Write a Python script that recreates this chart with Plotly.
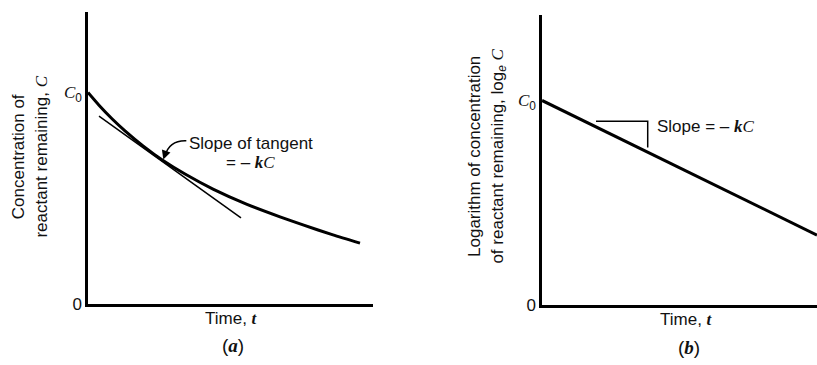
import plotly.graph_objects as go

W, H = 817, 365

# ---------------- data ----------------
# (a) concentration vs time (C0 = 1)
time_a = [0.0, 0.386, 0.842, 1.298, 1.930, 2.632, 3.404, 4.386, 5.579, 6.737, 7.544, 8.596, 9.544]
conc_a = [1.000, 0.940, 0.876, 0.819, 0.748, 0.679, 0.615, 0.544, 0.472, 0.413, 0.375, 0.328, 0.289]
# tangent line
tan_t = [0.386, 5.368]
tan_c = [0.888, 0.408]
tangent_point = (2.632, 0.679)

# (b) log concentration vs time
time_b = [0.0, 10.0]
logc_b = [1.0, 0.343]
# slope triangle
tri_t = [1.964, 3.844, 3.844]
tri_c = [0.899, 0.899, 0.770]

y_tickvals = [0, 1]
SERIF = "Liberation Serif"
SANS = "Liberation Sans"
c0_label = f"<span style='font-family:{SERIF}'><i>C</i></span><sub>0</sub>"
y_ticktext = ["0", c0_label]
kc = f"<span style='font-family:{SERIF}'><i><b>k</b>C</i></span>"


def px(x):
    return x / W


def py(y):
    return 1 - y / H


fig = go.Figure()
fig.add_trace(go.Scatter(x=time_a, y=conc_a, mode="lines", line=dict(color="black", width=3, shape="spline", smoothing=0.6),
                         xaxis="x", yaxis="y", hoverinfo="skip"))
fig.add_trace(go.Scatter(x=tan_t, y=tan_c, mode="lines", line=dict(color="black", width=1.5),
                         xaxis="x", yaxis="y", hoverinfo="skip"))
fig.add_trace(go.Scatter(x=time_b, y=logc_b, mode="lines", line=dict(color="black", width=3),
                         xaxis="x2", yaxis="y2", hoverinfo="skip"))
fig.add_trace(go.Scatter(x=tri_t, y=tri_c, mode="lines", line=dict(color="black", width=1.5),
                         xaxis="x2", yaxis="y2", hoverinfo="skip"))

axis_common = dict(showgrid=False, zeroline=False, showline=True, linecolor="black", linewidth=2.5,
                   ticks="", fixedrange=True)

fig.update_layout(
    width=W, height=H,
    margin=dict(l=0, r=0, t=0, b=0),
    paper_bgcolor="white", plot_bgcolor="white",
    showlegend=False,
    font=dict(family=SANS, size=17, color="#111111"),
    xaxis=dict(domain=[px(88), px(373)], range=[0, 10], showticklabels=False, anchor="y", **axis_common),
    yaxis=dict(domain=[py(313), py(12)], range=[0, 1.381], anchor="x", tickvals=y_tickvals, ticktext=y_ticktext,
               tickfont=dict(size=17), **axis_common),
    xaxis2=dict(domain=[px(542), 1.0], range=[0, 10], showticklabels=False, anchor="y2", **axis_common),
    yaxis2=dict(domain=[py(314), py(15)], range=[0, 1.419], anchor="x2", tickvals=y_tickvals, ticktext=y_ticktext,
                tickfont=dict(size=17), **axis_common),
)

# curved arrow shaft (a)
fig.add_shape(type="path", xref="x", yref="y",
              path="M 3.45,0.772 Q 2.85,0.775 2.70,0.700",
              line=dict(color="black", width=1.5))

ann = []
# arrow head pointing to tangent point
ann.append(dict(x=tangent_point[0], y=tangent_point[1], xref="x", yref="y", ax=3, ay=-9, text="",
                showarrow=True, arrowhead=2, arrowsize=1.2, arrowwidth=1.5, arrowcolor="black", standoff=1))
ann.append(dict(x=px(187), y=py(148), xref="paper", yref="paper", xanchor="left", yanchor="middle",
                text="Slope of tangent", showarrow=False))
ann.append(dict(x=px(250), y=py(167), xref="paper", yref="paper", xanchor="center", yanchor="middle",
                text=f"= – {kc}", showarrow=False))
ann.append(dict(x=px(655), y=py(130), xref="paper", yref="paper", xanchor="left", yanchor="middle",
                text=f"Slope = – {kc}", showarrow=False))
# axis titles
ann.append(dict(x=px(231.5), y=py(327.5), xref="paper", yref="paper", xanchor="center", yanchor="middle",
                text=f"Time, <span style='font-family:{SERIF}'><i><b>t</b></i></span>", showarrow=False))
ann.append(dict(x=px(686.5), y=py(329), xref="paper", yref="paper", xanchor="center", yanchor="middle",
                text=f"Time, <span style='font-family:{SERIF}'><i><b>t</b></i></span>", showarrow=False))
ann.append(dict(x=px(30), y=py(161), xref="paper", yref="paper", xanchor="center", yanchor="middle",
                textangle=-90,
                text=f"Concentration of<br>reactant remaining, <span style='font-family:{SERIF}'><i>C</i></span>",
                showarrow=False))
ann.append(dict(x=px(487), y=py(161), xref="paper", yref="paper", xanchor="center", yanchor="middle",
                textangle=-90,
                text=f"Logarithm of concentration<br>of reactant remaining, log<sub><i>e</i></sub> "
                     f"<span style='font-family:{SERIF}'><i>C</i></span>",
                showarrow=False))
# panel labels
ann.append(dict(x=px(233), y=py(355), xref="paper", yref="paper", xanchor="center", yanchor="middle",
                text=f"(<span style='font-family:{SERIF}'><i><b>a</b></i></span>)", showarrow=False,
                font=dict(size=19)))
ann.append(dict(x=px(689), y=py(357), xref="paper", yref="paper", xanchor="center", yanchor="middle",
                text=f"(<span style='font-family:{SERIF}'><i><b>b</b></i></span>)", showarrow=False,
                font=dict(size=19)))

fig.update_layout(annotations=ann)
fig.write_html("out.html")
